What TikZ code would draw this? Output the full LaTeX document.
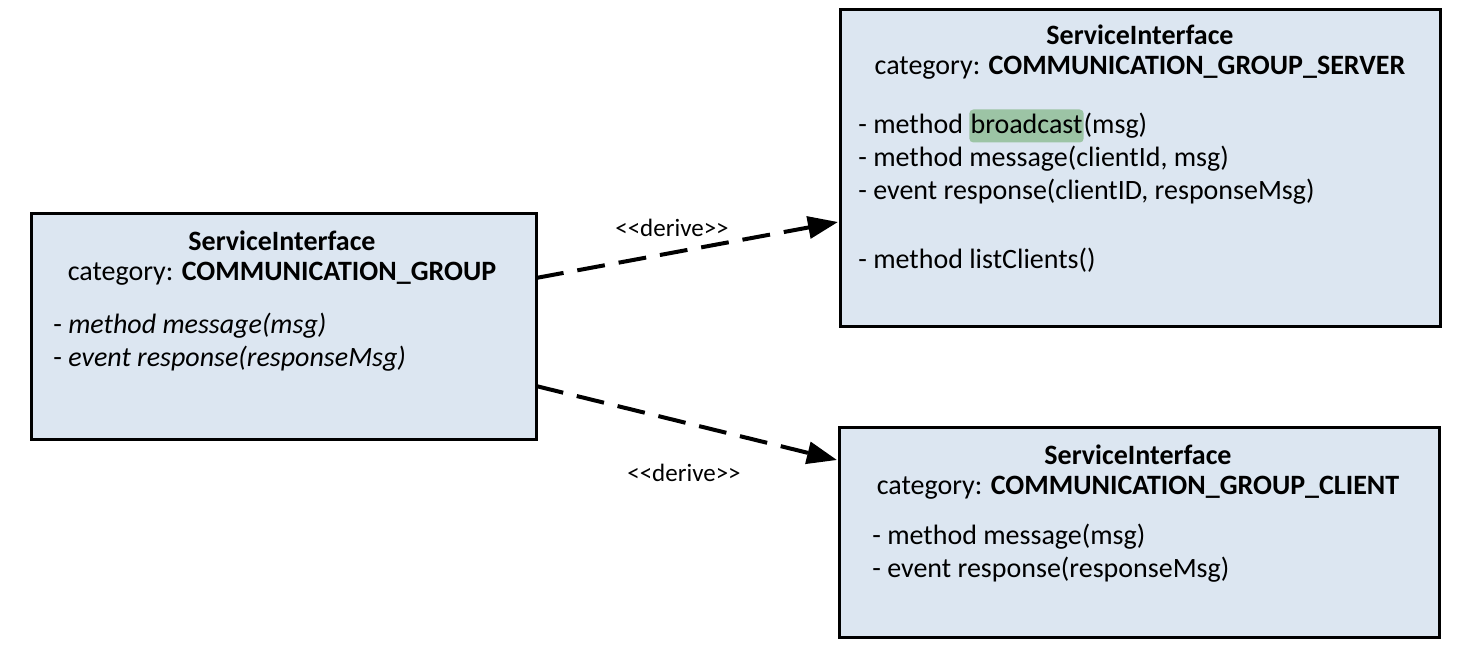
\documentclass[tikz,border=0pt]{standalone}
\usepackage{fontspec}
\setmainfont{Carlito}
\usetikzlibrary{arrows.meta}
\definecolor{boxfill}{RGB}{220,230,241}
\definecolor{hlgreen}{RGB}{156,196,165}
\newcommand\hlword[1]{\tikz[baseline=(w.base)]\node[fill=hlgreen,rounded corners=2pt,inner xsep=0.6pt,inner ysep=0pt,text height=12pt,text depth=4.5pt](w){#1};}
\tikzset{
  umlbox/.style={draw=black,line width=1.6pt,fill=boxfill,anchor=north west,inner sep=0pt},
  title/.style={font=\fontsize{14}{16.5}\selectfont\bfseries,anchor=center,inner sep=0pt},
  cat/.style={font=\fontsize{14}{16.5}\selectfont,anchor=center,inner sep=0pt},
  item/.style={font=\fontsize{14}{16.5}\selectfont,anchor=west,inner sep=0pt},
  lbl/.style={font=\fontsize{12.5}{15}\selectfont,anchor=center,inner sep=0pt},
  derive/.style={line width=2pt,dash pattern=on 14pt off 7pt,-{Triangle[length=15pt,width=11pt]}}
}
\begin{document}
\begin{tikzpicture}[x=0.5pt,y=-0.5pt]
\useasboundingbox (0,0) rectangle (1462,658);
% boxes
\node[umlbox,minimum width=252.5pt,minimum height=113pt] (base) at (30,212) {};
\node[umlbox,minimum width=300pt,minimum height=158.5pt] (server) at (839,8) {};
\node[umlbox,minimum width=300pt,minimum height=105pt] (client) at (838,426) {};
% left box text
\node[title] (bt) at (282,241) {ServiceInterface};
\node[cat] (bc) at (282,274) {category: \textbf{COMMUNICATION\_GROUP}};
\node[item] (b1) at (53,326) {- \textit{method message(msg)}};
\node[item] (b2) at (53,359) {- \textit{event response(responseMsg)}};
% server box text
\node[title] (st) at (1140,35) {ServiceInterface};
\node[cat] (sc) at (1140,68) {category: \textbf{COMMUNICATION\_GROUP\_SERVER}};
\node[item] (s1) at (858,126) {- method \hlword{broadcast}(msg)};
\node[item] (s2) at (858,159) {- method message(clientId, msg)};
\node[item] (s3) at (858,192) {- event response(clientID, responseMsg)};
\node[item] (s4) at (858,260) {- method listClients()};
% client box text
\node[title] (ct) at (1138,455) {ServiceInterface};
\node[cat] (cc) at (1138,488) {category: \textbf{COMMUNICATION\_GROUP\_CLIENT}};
\node[item] (c1) at (872,537) {- method message(msg)};
\node[item] (c2) at (872,570) {- event response(responseMsg)};
% connectors
\coordinate (bu) at (536,278);
\coordinate (bd) at (536,386);
\coordinate (su) at (838,222);
\coordinate (cd) at (837,460);
\draw[derive] (bu) -- (su);
\draw[derive] (bd) -- (cd);
\node[lbl] (l1) at (672,228) {{<}{<}derive{>}{>}};
\node[lbl] (l2) at (684,473) {{<}{<}derive{>}{>}};
\end{tikzpicture}
\end{document}
